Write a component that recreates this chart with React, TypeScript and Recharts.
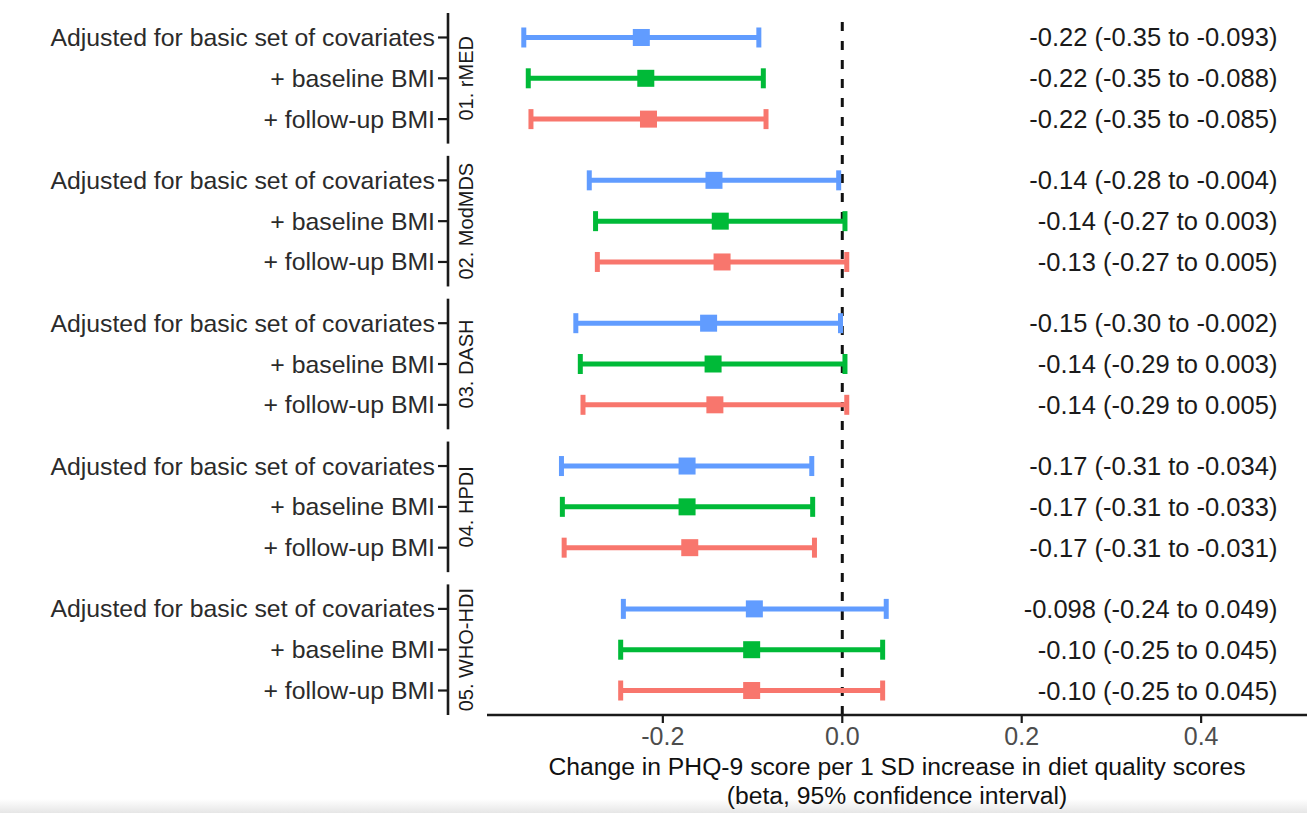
import React from "react";
import { ScatterChart, Scatter, XAxis, YAxis, ErrorBar, ReferenceLine } from "recharts";

// Forest plot: change in PHQ-9 per 1 SD of diet quality score, three adjustment models per score.
const GROUPS = ["01. rMED", "02. ModMDS", "03. DASH", "04. HPDI", "05. WHO-HDI"];
const MODELS = ["Adjusted for basic set of covariates", "+ baseline BMI", "+ follow-up BMI"];
const COLORS = ["#619CFF", "#00BA38", "#F8766D"];

// one value per group (rMED, ModMDS, DASH, HPDI, WHO-HDI)
const EST_BASIC = [-0.224, -0.143, -0.149, -0.173, -0.098];
const LOW_BASIC = [-0.355, -0.282, -0.297, -0.313, -0.244];
const HIGH_BASIC = [-0.093, -0.004, -0.002, -0.034, 0.049];

const EST_BASE_BMI = [-0.219, -0.136, -0.144, -0.173, -0.101];
const LOW_BASE_BMI = [-0.35, -0.275, -0.292, -0.312, -0.247];
const HIGH_BASE_BMI = [-0.088, 0.003, 0.003, -0.033, 0.045];

const EST_FU_BMI = [-0.216, -0.134, -0.142, -0.17, -0.101];
const LOW_FU_BMI = [-0.347, -0.273, -0.289, -0.31, -0.247];
const HIGH_FU_BMI = [-0.085, 0.005, 0.005, -0.031, 0.045];

const TEXT_BASIC = [
  "-0.22 (-0.35 to -0.093)",
  "-0.14 (-0.28 to -0.004)",
  "-0.15 (-0.30 to -0.002)",
  "-0.17 (-0.31 to -0.034)",
  "-0.098 (-0.24 to 0.049)",
];
const TEXT_BASE_BMI = [
  "-0.22 (-0.35 to -0.088)",
  "-0.14 (-0.27 to 0.003)",
  "-0.14 (-0.29 to 0.003)",
  "-0.17 (-0.31 to -0.033)",
  "-0.10 (-0.25 to 0.045)",
];
const TEXT_FU_BMI = [
  "-0.22 (-0.35 to -0.085)",
  "-0.13 (-0.27 to 0.005)",
  "-0.14 (-0.29 to 0.005)",
  "-0.17 (-0.31 to -0.031)",
  "-0.10 (-0.25 to 0.045)",
];

const X_TICKS = [-0.2, 0, 0.2, 0.4];
const X_DOMAIN = [-0.396, 0.518];
const LABEL_X = 0.485; // right-hand text column, right aligned here

// layout
const W = 1307;
const H = 813;
const TOP = 13;
const X_AXIS_H = 98;
const Y_AXIS_W = 487;
const GROUP_STEP = 3.5; // rows between group starts (3 rows + facet gap)
const Y_DOMAIN = [-0.6, (GROUPS.length - 1) * GROUP_STEP + MODELS.length - 1 + 0.6];
const PLOT_H = H - TOP - X_AXIS_H;
const ROW_PX = PLOT_H / (Y_DOMAIN[1] - Y_DOMAIN[0]);
const FONT = "'Liberation Sans', Arial, sans-serif";
const INK = "#1a1a1a";

const SERIES = [
  { est: EST_BASIC, low: LOW_BASIC, high: HIGH_BASIC, text: TEXT_BASIC },
  { est: EST_BASE_BMI, low: LOW_BASE_BMI, high: HIGH_BASE_BMI, text: TEXT_BASE_BMI },
  { est: EST_FU_BMI, low: LOW_FU_BMI, high: HIGH_FU_BMI, text: TEXT_FU_BMI },
];

const rowY = (g: number, m: number) => g * GROUP_STEP + m;

const pointData = SERIES.map((s, m) =>
  GROUPS.map((_, g) => ({
    x: s.est[g],
    y: rowY(g, m),
    err: [s.est[g] - s.low[g], s.high[g] - s.est[g]],
  }))
);

const textData = SERIES.map((s, m) =>
  GROUPS.map((_, g) => ({ x: LABEL_X, y: rowY(g, m), text: s.text[g] }))
);

const ROW_TICKS = GROUPS.flatMap((_, g) => MODELS.map((__, m) => rowY(g, m)));

const Square = (color: string) => (props: any) => {
  const { cx, cy } = props;
  if (cx == null || cy == null) return null;
  return <rect x={cx - 8.5} y={cy - 8.5} width={17} height={17} fill={color} />;
};

const RightText = (props: any) => {
  const { cx, cy, payload } = props;
  if (cx == null || cy == null) return null;
  return (
    <text
      x={cx}
      y={cy}
      textAnchor="end"
      dominantBaseline="central"
      fontFamily={FONT}
      fontSize={25.5}
      fill={INK}
    >
      {payload.text}
    </text>
  );
};

// row label + tick; the middle row of each group also draws the facet axis line and strip label
const RowTick = (props: any) => {
  const { x, y, payload } = props;
  const g = Math.floor(payload.value / GROUP_STEP + 1e-6);
  const m = Math.round(payload.value - g * GROUP_STEP);
  const axisX = x - 39;
  const half = 1.6 * ROW_PX;
  return (
    <g>
      <line x1={axisX - 10} x2={axisX} y1={y} y2={y} stroke={INK} strokeWidth={2.2} />
      <text
        x={axisX - 13}
        y={y}
        textAnchor="end"
        dominantBaseline="central"
        fontFamily={FONT}
        fontSize={24.8}
        fill="#2b2b2b"
      >
        {MODELS[m]}
      </text>
      {m === 1 && (
        <>
          <line x1={axisX} x2={axisX} y1={y - half} y2={y + half} stroke={INK} strokeWidth={2.6} />
          <text
            x={x - 21}
            y={y}
            transform={`rotate(-90, ${x - 21}, ${y})`}
            textAnchor="middle"
            dominantBaseline="central"
            fontFamily={FONT}
            fontSize={20}
            fill={INK}
          >
            {GROUPS[g]}
          </text>
        </>
      )}
    </g>
  );
};

const AxisTitle = (props: any) => {
  const { viewBox } = props;
  const cx = viewBox.x + viewBox.width / 2;
  return (
    <text textAnchor="middle" fontFamily={FONT} fontSize={24.7} fill="#111">
      <tspan x={cx} y={viewBox.y + 60}>
        Change in PHQ-9 score per 1 SD increase in diet quality scores
      </tspan>
      <tspan x={cx} y={viewBox.y + 89}>
        (beta, 95% confidence interval)
      </tspan>
    </text>
  );
};

export default function App() {
  return (
    <div style={{ position: "absolute", left: 0, top: 0, width: W, height: H, background: "#fff" }}>
      <div
        style={{
          position: "absolute",
          left: 0,
          right: 0,
          bottom: 0,
          height: 14,
          background: "linear-gradient(#ffffff, #e6e6e6)",
        }}
      />
      <div style={{ position: "absolute", left: 0, top: 0 }}>
        <ScatterChart width={W} height={H} margin={{ top: TOP, right: 0, bottom: 0, left: 0 }}>
          <XAxis
            type="number"
            dataKey="x"
            domain={X_DOMAIN}
            allowDataOverflow
            ticks={X_TICKS}
            tickFormatter={(v: number) => v.toFixed(1)}
            height={X_AXIS_H}
            axisLine={{ stroke: INK, strokeWidth: 2.6 }}
            tickLine={{ stroke: INK, strokeWidth: 2.2 }}
            tickSize={8}
            tickMargin={4}
            tick={{ fontFamily: FONT, fontSize: 25, fill: "#4d4d4d" }}
            label={AxisTitle}
          />
          <YAxis
            type="number"
            dataKey="y"
            domain={Y_DOMAIN}
            reversed
            ticks={ROW_TICKS}
            interval={0}
            width={Y_AXIS_W}
            axisLine={false}
            tickLine={false}
            tickSize={0}
            tickMargin={0}
            tick={RowTick}
          />
          <ReferenceLine x={0} stroke="#111" strokeWidth={3} strokeDasharray="9 10" />
          {pointData.map((d, m) => (
            <Scatter
              key={MODELS[m]}
              name={MODELS[m]}
              data={d}
              fill={COLORS[m]}
              shape={Square(COLORS[m])}
              isAnimationActive={false}
            >
              <ErrorBar
                dataKey="err"
                direction="x"
                width={10}
                stroke={COLORS[m]}
                strokeWidth={5}
                isAnimationActive={false}
              />
            </Scatter>
          ))}
          {textData.map((d, m) => (
            <Scatter key={`text-${m}`} data={d} shape={RightText} isAnimationActive={false} />
          ))}
        </ScatterChart>
      </div>
    </div>
  );
}
